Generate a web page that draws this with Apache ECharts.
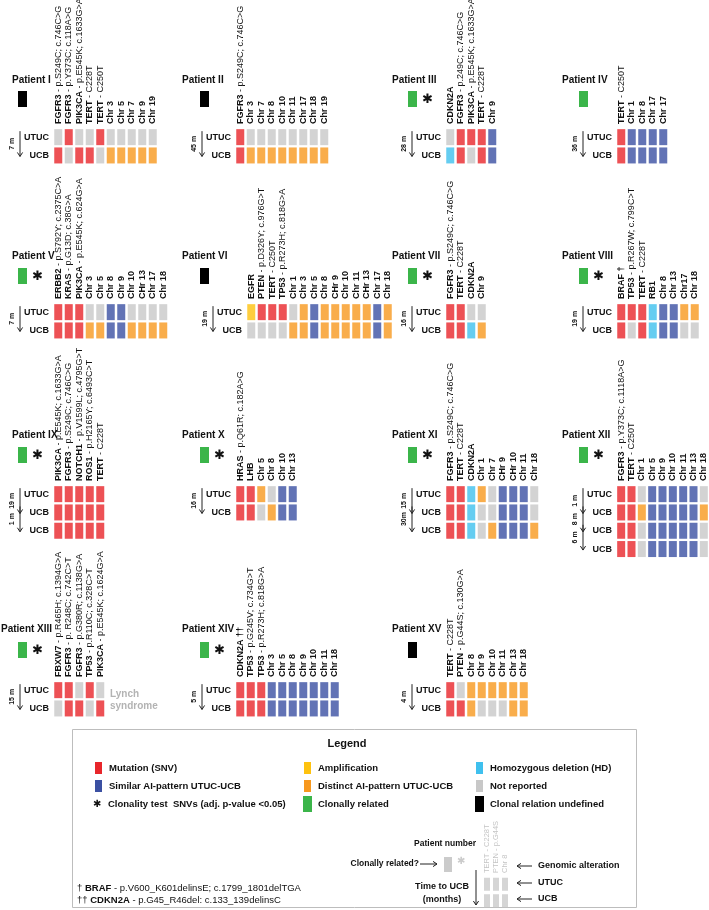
<!DOCTYPE html>
<html>
<head>
<meta charset="utf-8">
<script src="https://cdn.jsdelivr.net/npm/echarts@6/dist/echarts.min.js"></script>
<style>
  html, body { margin: 0; padding: 0; background: #fff; }
  #chart { width: 709px; height: 910px; }
</style>
</head>
<body>
<div id="chart"></div>
<script>
// status codes: M mutation, B similar AI-pattern, O distinct AI-pattern,
// Y amplification, H homozygous deletion, N not reported
const P1_ALTERATIONS = ['FGFR3 - p.S249C; c.746C>G', 'FGFR3 - p.Y373C; c.118A>G', 'PIK3CA - p.E545K; c.1633G>A', 'TERT - C228T', 'TERT - C250T', 'Chr 3', 'Chr 5', 'Chr 7', 'Chr 9', 'Chr 19'];
const P1_STATUS = ['NMNNMNNNNN', 'MNMMNOOOOO'];
const P2_ALTERATIONS = ['FGFR3 - p.S249C; c.746C>G', 'Chr 3', 'Chr 7', 'Chr 8', 'Chr 10', 'Chr 11', 'Chr 17', 'Chr 18', 'Chr 19'];
const P2_STATUS = ['MNNNNNNNN', 'MOOOOOOOO'];
const P3_ALTERATIONS = ['CDKN2A', 'FGFR3 - p.249C; c.746C>G', 'PIK3CA - p.E545K; c.1633G>A', 'TERT - C228T', 'Chr 9'];
const P3_STATUS = ['NMMMB', 'HMNMB'];
const P4_ALTERATIONS = ['TERT - C250T', 'Chr 1', 'Chr 8', 'Chr 17', 'Chr 17'];
const P4_STATUS = ['MBBBB', 'MBBBB'];
const P5_ALTERATIONS = ['ERBB2 - p.S792Y; c.2375C>A', 'KRAS - p.G13D; c.38G>A', 'PIK3CA - p.E545K; c.624G>A', 'Chr 3', 'Chr 5', 'Chr 8', 'Chr 9', 'Chr 10', 'CHr 13', 'Chr 17', 'Chr 18'];
const P5_STATUS = ['MMMNNBBNNNN', 'MMMOOBBOOOO'];
const P6_ALTERATIONS = ['EGFR', 'PTEN - p.D326Y; c.976G>T', 'TERT - C250T', 'TP53 - p.R273H; c.818G>A', 'Chr 1', 'Chr 3', 'Chr 5', 'Chr 8', 'CHr 9', 'Chr 10', 'Chr 11', 'CHr 13', 'Chr 17', 'Chr 18'];
const P6_STATUS = ['YMMMNOBOOOOOBO', 'NNNNOOBOOOOOBO'];
const P7_ALTERATIONS = ['FGFR3 - p.S249C; c.746C>G', 'TERT - C228T', 'CDKN2A', 'Chr 9'];
const P7_STATUS = ['MMNN', 'MMHO'];
const P8_ALTERATIONS = ['BRAF \u2020', 'TP53 - p.R267W; c.799C>T', 'TERT - C228T', 'RB1', 'Chr 8', 'Chr 13', 'Chr17', 'Chr 18'];
const P8_STATUS = ['MMMHBBOO', 'MNMHBBNN'];
const P9_ALTERATIONS = ['PIK3CA - p.E545K; c.1633G>A', 'FGFR3 - p.S249C; c.746C>G', 'NOTCH1 - p.V1599L; c.4795G>T', 'ROS1 - p.H2165Y; c.6493C>T', 'TERT - C228T'];
const P9_STATUS = ['MMMMM', 'MMMMM', 'MMMMM'];
const P10_ALTERATIONS = ['HRAS - p.Q61R; c.182A>G', 'LHB', 'Chr 5', 'Chr 8', 'Chr 10', 'Chr 13'];
const P10_STATUS = ['MMONBB', 'MMNOBB'];
const P11_ALTERATIONS = ['FGFR3 - p.S249C; c.746C>G', 'TERT - C228T', 'CDKN2A', 'Chr 1', 'Chr 7', 'CHr 9', 'CHr 10', 'Chr 11', 'Chr 18'];
const P11_STATUS = ['MMHONBBBN', 'MMHNNBBBN', 'MMHNOBBBO'];
const P12_ALTERATIONS = ['FGFR3 - p.Y373C; c.1118A>G', 'TERT - C250T', 'Chr 1', 'Chr 5', 'Chr 9', 'Chr 10', 'Chr 11', 'Chr 13', 'Chr 18'];
const P12_STATUS = ['MMNBBBBBN', 'MMOBBBBBO', 'MMNBBBBBN', 'MMNBBBBBN'];
const P13_ALTERATIONS = ['FBXW7 - p.R465H; c.1394G>A', 'FGFR3 - p. R248C; c.742C>T', 'FGFR3 - p.G380R; c.1138G>A', 'TP53 - p.R110C; c.328C>T', 'PIK3CA - p.E545K; c.1624G>A'];
const P13_STATUS = ['MMNMN', 'NMMNM'];
const P14_ALTERATIONS = ['CDKN2A \u2020\u2020', 'TP53 - p.G245V; c.734G>T', 'TP53 - p.R273H; c.818G>A', 'Chr 3', 'Chr 5', 'Chr 8', 'Chr 9', 'Chr 10', 'Chr 11', 'Chr 18'];
const P14_STATUS = ['MMMBBBBBBB', 'MMMBBBBBBB'];
const P15_ALTERATIONS = ['TERT - C228T', 'PTEN - p.G44S; c.130G>A', 'Chr 8', 'Chr 9', 'Chr 10', 'Chr 11', 'Chr 13', 'Chr 18'];
const P15_STATUS = ['MNOOOOOO', 'MMONNNOO'];

const PATIENT_NAMES = ['Patient I', 'Patient II', 'Patient III', 'Patient IV', 'Patient V', 'Patient VI', 'Patient VII', 'Patient VIII',
  'Patient IX', 'Patient X', 'Patient XI', 'Patient XII', 'Patient XIII', 'Patient XIV', 'Patient XV'];
const TIME_TO_UCB = [['7 m'], ['45 m'], ['28 m'], ['36 m'], ['7 m'], ['19 m'], ['16 m'], ['19 m'],
  ['19 m', '1 m'], ['16 m'], ['15 m', '30m'], ['1 m', '8 m', '6 m'], ['15 m'], ['5 m'], ['4 m']];
const CLONALLY_RELATED = [false, false, true, true, true, false, true, true, true, true, true, true, true, true, false];
const CLONALITY_STAR = [false, false, true, false, true, false, true, true, true, true, true, true, true, true, false];

const SCHEME_ALTERATIONS = ['TERT - C228T', 'PTEN - p.G44S', 'Chr 8'];
const SCHEME_STATUS = ['NNN', 'NNN'];

const PATIENTS = [
  [P1_ALTERATIONS, P1_STATUS], [P2_ALTERATIONS, P2_STATUS], [P3_ALTERATIONS, P3_STATUS], [P4_ALTERATIONS, P4_STATUS],
  [P5_ALTERATIONS, P5_STATUS], [P6_ALTERATIONS, P6_STATUS], [P7_ALTERATIONS, P7_STATUS], [P8_ALTERATIONS, P8_STATUS],
  [P9_ALTERATIONS, P9_STATUS], [P10_ALTERATIONS, P10_STATUS], [P11_ALTERATIONS, P11_STATUS], [P12_ALTERATIONS, P12_STATUS],
  [P13_ALTERATIONS, P13_STATUS], [P14_ALTERATIONS, P14_STATUS], [P15_ALTERATIONS, P15_STATUS]
];

const COLORS = { M: '#e8262b', B: '#3b50a2', O: '#f7981e', Y: '#fec20f', H: '#3fc0ee', N: '#c8c8c8' };
const FONT = 'Liberation Sans, Arial, sans-serif';

// layout of the 4 x 4 panel arrangement
const SLOT_GRID_X = [53, 235, 445, 616];
const SLOT_TITLE_X = [12, 182, 392, 562];
const SLOT_FLAG_X = [18, 200, 408, 579];
const ROW_TITLE_Y = [80, 256, 435, 629];
const ROW_FLAG_Y = [91, 268, 447, 642];
const ROW_GRID_Y = [128, 303, 485, 681];
const CELL_W = 10.5;
const CELL_H = 18.3;

const measureCtx = document.createElement('canvas').getContext('2d');
function textWidth(str, weight, size) {
  measureCtx.font = weight + ' ' + size + 'px ' + FONT;
  return measureCtx.measureText(str).width;
}

function text(x, y, str, size, opts) {
  opts = opts || {};
  return {
    type: 'text', x: x, y: y, rotation: opts.rotation || 0, silent: true,
    style: {
      text: str, fontSize: size, fontFamily: FONT, fontWeight: opts.weight || 'bold',
      fill: opts.color || '#111', align: opts.align || 'left', verticalAlign: 'middle',
      rich: opts.rich
    }
  };
}

function arrow(x1, y1, x2, y2, color) {
  const ang = Math.atan2(y2 - y1, x2 - x1);
  const h = 4, w = 2.6;
  const bx = x2 - h * Math.cos(ang), by = y2 - h * Math.sin(ang);
  const px = -Math.sin(ang) * w, py = Math.cos(ang) * w;
  const c = color || '#222';
  return [
    { type: 'line', silent: true, shape: { x1: x1, y1: y1, x2: x2, y2: y2 }, style: { stroke: c, lineWidth: 1 } },
    { type: 'polyline', silent: true, shape: { points: [[bx + px, by + py], [x2, y2], [bx - px, by - py]] }, style: { stroke: c, lineWidth: 1, fill: null } }
  ];
}

// vertical alteration label: gene name bold next to the matrix, detail in normal weight above it
function columnLabel(label, cfg) {
  const k = label.indexOf(' - ');
  const gene = k < 0 ? label : label.slice(0, k);
  const detail = k < 0 ? '' : label.slice(k);
  const gw = cfg.bold ? 'bold' : 'normal';
  const base = { fontSize: cfg.fontSize, fontFamily: FONT, fill: cfg.color, align: 'left', verticalAlign: 'middle' };
  const children = [{ type: 'text', x: 0, y: 0, style: Object.assign({ text: gene, fontWeight: gw }, base) }];
  if (detail) {
    children.push({ type: 'text', x: textWidth(gene, gw, cfg.fontSize), y: 0,
      style: Object.assign({ text: detail, fontWeight: 'normal' }, base) });
  }
  return children;
}

function addMatrix(option, idx, alts, status, box, cfg) {
  const samples = status.map((s, r) => r === 0 ? 'UTUC' : 'UCB');
  option.grid.push({ left: box.x, top: box.y, width: alts.length * box.cw, height: status.length * box.ch, containLabel: false });
  option.xAxis.push({
    type: 'category', gridIndex: idx, position: 'top', data: alts,
    axisLine: { show: false }, axisTick: { show: false }, splitLine: { show: false }, axisLabel: { show: false }
  });
  option.yAxis.push({
    type: 'category', gridIndex: idx, inverse: true, data: samples,
    axisLine: { show: false }, axisTick: { show: false }, splitLine: { show: false },
    axisLabel: { show: cfg.showSamples, margin: 4, fontSize: 9, fontWeight: 'bold', fontFamily: FONT, color: '#111' }
  });
  const data = [];
  status.forEach((s, r) => s.split('').forEach((code, c) => {
    data.push({ value: [c, r], itemStyle: { color: cfg.cellColor || COLORS[code] } });
  }));
  option.series.push({
    type: 'scatter', xAxisIndex: idx, yAxisIndex: idx, symbol: 'rect', symbolSize: cfg.cell,
    silent: true, data: data
  });
  // alteration names above each column
  option.series.push({
    type: 'custom', xAxisIndex: idx, yAxisIndex: idx, silent: true, clip: false,
    data: alts.map((a, c) => [c, 0]),
    renderItem: function (params, api) {
      const p = api.coord([api.value(0), api.value(1)]);
      const top = p[1] - api.size([0, 1])[1] / 2;
      return {
        type: 'group', x: p[0], y: top - cfg.gap, rotation: Math.PI / 2,
        children: columnLabel(alts[params.dataIndex], cfg)
      };
    }
  });
}

function buildOption() {
  const option = { animation: false, backgroundColor: '#fff', grid: [], xAxis: [], yAxis: [], series: [], graphic: [] };
  const g = option.graphic;

  PATIENTS.forEach(([alts, status], i) => {
    const col = i % 4, row = Math.floor(i / 4);
    const gx = i === 5 ? 246 : SLOT_GRID_X[col];
    const gy = ROW_GRID_Y[row];
    addMatrix(option, i, alts, status, { x: gx, y: gy, cw: CELL_W, ch: CELL_H },
      { fontSize: 9, color: '#111', bold: true, showSamples: true, cell: [8, 16], gap: 4 });

    // patient title, clonal flag and star
    g.push(text(i === 12 ? 1 : SLOT_TITLE_X[col], ROW_TITLE_Y[row], PATIENT_NAMES[i], 10));
    const fx = SLOT_FLAG_X[col], fy = ROW_FLAG_Y[row];
    g.push({ type: 'rect', silent: true, shape: { x: fx, y: fy, width: 9, height: 16 },
      style: { fill: CLONALLY_RELATED[i] ? '#3bb54a' : '#000' } });
    if (CLONALITY_STAR[i]) g.push(text(fx + 19, fy + 8, '\u2731', 13, { weight: 'normal', align: 'center' }));

    // time to UCB arrows
    TIME_TO_UCB[i].forEach((t, k) => {
      const ax = gx - 33;
      const y1 = gy + (k + 0.5) * CELL_H - 6;
      const y2 = gy + (k + 1.5) * CELL_H + 1;
      arrow(ax, y1, ax, y2).forEach(e => g.push(e));
      g.push(text(gx - 41, (y1 + y2) / 2, t, 7, { rotation: Math.PI / 2, align: 'center' }));
    });
  });

  // Lynch syndrome note
  g.push(text(110, 694, 'Lynch', 10, { color: '#b3b3b3' }));
  g.push(text(110, 706, 'syndrome', 10, { color: '#b3b3b3' }));

  // legend box
  g.push({ type: 'rect', silent: true, shape: { x: 72.5, y: 729.5, width: 564, height: 178 },
    style: { fill: 'none', stroke: '#bdbdbd', lineWidth: 1 } });
  g.push(text(347, 744, 'Legend', 11, { align: 'center' }));

  const colX = [95, 304, 476];
  const rowY = [768, 786, 804];
  const items = [
    [0, 0, COLORS.M, 'Mutation (SNV)'], [1, 0, COLORS.Y, 'Amplification'], [2, 0, COLORS.H, 'Homozygous deletion (HD)'],
    [0, 1, COLORS.B, 'Similar AI-pattern UTUC-UCB'], [1, 1, COLORS.O, 'Distinct AI-pattern UTUC-UCB'], [2, 1, COLORS.N, 'Not reported'],
    [0, 2, null, 'Clonality test  SNVs (adj. p-value <0.05)'], [1, 2, '#3bb54a', 'Clonally related'], [2, 2, '#000', 'Clonal relation undefined']
  ];
  items.forEach(([c, r, color, label]) => {
    const x = colX[c], y = rowY[r];
    if (color === null) {
      g.push(text(x + 2, y, '\u2731', 10, { weight: 'normal', align: 'center' }));
    } else if (r === 2) {
      g.push({ type: 'rect', silent: true, shape: { x: x - 1, y: y - 8, width: 9, height: 16 }, style: { fill: color } });
    } else {
      g.push({ type: 'rect', silent: true, shape: { x: x, y: y - 6, width: 7, height: 12 }, style: { fill: color } });
    }
    g.push(text(x + (c === 0 && r === 2 ? 13 : 14), y, label, 9.5));
  });

  // footnotes
  const rich = { b: { fontWeight: 'bold', fontSize: 9.5, fontFamily: FONT, fill: '#111' } };
  g.push(text(77, 888, '\u2020 {b|BRAF} - p.V600_K601delinsE; c.1799_1801delTGA', 9.5, { weight: 'normal', rich: rich }));
  g.push(text(77, 900, '\u2020\u2020 {b|CDKN2A} - p.G45_R46del: c.133_139delinsC', 9.5, { weight: 'normal', rich: rich }));

  // explanatory scheme
  addMatrix(option, PATIENTS.length, SCHEME_ALTERATIONS, SCHEME_STATUS, { x: 482.5, y: 876, cw: 9, ch: 16.5 },
    { fontSize: 7.5, color: '#c4c4c4', bold: false, showSamples: false, cell: [6, 13], cellColor: '#cbcbcb', gap: 3 });
  g.push(text(445, 844, 'Patient number', 8.5, { align: 'center' }));
  g.push(text(419, 864, 'Clonally related?', 8.5, { align: 'right' }));
  arrow(420, 864, 437, 864).forEach(e => g.push(e));
  g.push({ type: 'rect', silent: true, shape: { x: 444, y: 857, width: 8, height: 15 }, style: { fill: '#cbcbcb' } });
  g.push(text(461, 861, '\u2731', 10, { weight: 'normal', align: 'center', color: '#cbcbcb' }));
  [['Genomic alteration', 866], ['UTUC', 883], ['UCB', 899]].forEach(([label, y]) => {
    arrow(532, y, 517, y).forEach(e => g.push(e));
    g.push(text(538, y, label, 9));
  });
  g.push(text(442, 887, 'Time to UCB', 9, { align: 'center' }));
  g.push(text(442, 900, '(months)', 9, { align: 'center' }));
  arrow(476, 870, 476, 905).forEach(e => g.push(e));

  return option;
}

document.addEventListener('DOMContentLoaded', function () {
  const chart = echarts.init(document.getElementById('chart'), null, { renderer: 'canvas' });
  chart.setOption(buildOption());
  window.addEventListener('resize', chart.resize);
});
</script>
</body>
</html>
